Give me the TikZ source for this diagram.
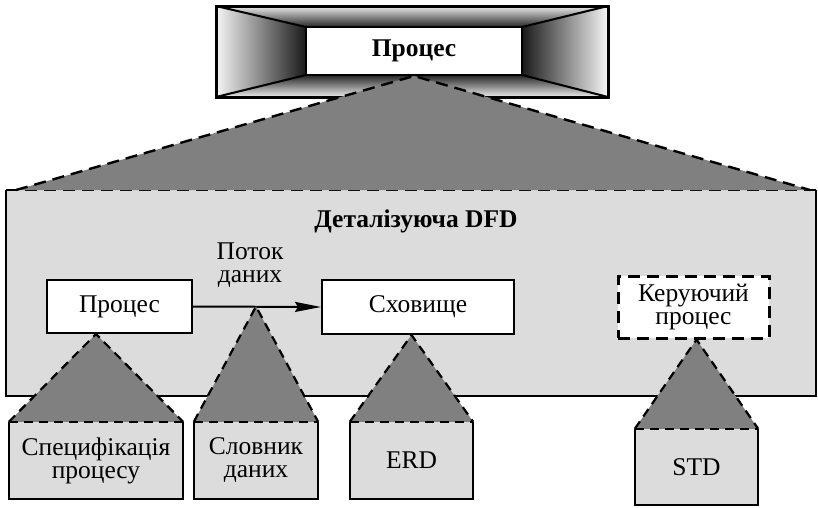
\documentclass[tikz,border=0pt]{standalone}
\usepackage{fontspec}
\setmainfont{Liberation Serif}
\usetikzlibrary{arrows.meta}
\definecolor{panelgrey}{HTML}{DCDCDC}
\definecolor{conegrey}{HTML}{808080}

\begin{document}
\begin{tikzpicture}[x=1pt,y=-1pt,
  lbl/.style={font=\fontsize{25.5}{23}\selectfont, align=center, inner sep=0pt},
  boldlbl/.style={font=\fontsize{25.5}{23}\selectfont\bfseries},
  whitebox/.style={lbl, draw, line width=2pt, fill=white},
  leafbox/.style={lbl, fill=panelgrey},
  solidedge/.style={line width=2pt, line join=miter},
  dashedge/.style={line width=2.2pt, dash pattern=on 9pt off 6pt},
  bigdash/.style={line width=2.4pt, dash pattern=on 12pt off 7pt},
  cone/.style={fill=conegrey},
  frameline/.style={line width=2pt},
  flowarrow/.style={line width=2pt, -{Stealth[length=26pt,width=10pt,inset=3pt]}}
]
\useasboundingbox (0,0) rectangle (818,507);

% ---- top process box with tunnel frame ----
\coordinate (ftl) at (216,6);
\coordinate (ftr) at (608,6);
\coordinate (fbl) at (216,97);
\coordinate (fbr) at (608,97);
\coordinate (itl) at (306,27);
\coordinate (itr) at (522,27);
\coordinate (ibl) at (306,75);
\coordinate (ibr) at (522,75);
\shade[top color=gray!15, bottom color=black!85] (ftl) -- (ftr) -- (itr) -- (itl) -- cycle;
\shade[top color=black!85, bottom color=gray!15] (fbl) -- (ibl) -- (ibr) -- (fbr) -- cycle;
\shade[left color=gray!8, right color=black!90] (ftl) -- (itl) -- (ibl) -- (fbl) -- cycle;
\shade[left color=black!90, right color=gray!8] (ftr) -- (itr) -- (ibr) -- (fbr) -- cycle;
\draw[frameline] (ftl) -- (itl) (ftr) -- (itr) (fbl) -- (ibl) (fbr) -- (ibr);
\node[whitebox, boldlbl, minimum width=216pt, minimum height=48pt]
  (toproc) at (414,51) {Процес};
\draw[line width=3pt] (ftl) rectangle (fbr);

% ---- detailing DFD panel ----
\coordinate (pnw) at (6,190);
\coordinate (pne) at (816,190);
\coordinate (psw) at (6,396);
\coordinate (pse) at (816,396);
\fill[panelgrey] (pnw) rectangle (pse);
\draw[solidedge] (pnw) -- (psw) -- (pse) -- (pne);
\draw[bigdash] (pnw) -- (pne);

% cone from the top process down to the panel
\coordinate (cl) at (16,190);
\coordinate (cr) at (810,190);
\fill[cone] (cl) -- (toproc.south) -- (cr) -- cycle;
\draw[bigdash] (cl) -- (toproc.south) -- (cr);

\node[lbl, boldlbl] (title) at (416,221) {Деталізуюча DFD};

\node[whitebox, minimum width=145pt, minimum height=53pt] (p1) at (119.5,306.5) {Процес};
\node[whitebox, minimum width=192pt, minimum height=54pt] (st) at (418,307) {Сховище};
\node[lbl, fill=white, draw, line width=3pt, dash pattern=on 12pt off 7pt,
  minimum width=151pt, minimum height=62pt] (ctl) at (693.5,307) {Керуючий\\процес};
\node[lbl] (flow) at (250,265) {Поток\\даних};
\draw[flowarrow] (p1.east) -- (st.west);

% ---- leaf specifications under the panel ----
\node[leafbox, minimum width=174pt, minimum height=77pt] (b1) at (96,460.5) {Специфікація\\процесу};
\node[leafbox, minimum width=124pt, minimum height=77pt] (b2) at (256,460.5) {Словник\\даних};
\node[leafbox, minimum width=123pt, minimum height=77pt] (b3) at (411.5,460.5) {ERD};
\node[leafbox, minimum width=123pt, minimum height=76pt] (b4) at (696.5,467) {STD};

\foreach \b/\top in {b1/p1.south, b2/p1.east, b3/st.south, b4/ctl.south} {
  \coordinate (apex-\b) at (\b.north |- \top);
  \fill[cone] (\b.north west) -- (apex-\b) -- (\b.north east) -- cycle;
  \draw[dashedge] (\b.north west) -- (apex-\b) -- (\b.north east);
  \draw[solidedge] (\b.north west) |- (\b.south east) -- (\b.north east);
  \draw[dashedge] (\b.north west) -- (\b.north east);
}
\end{tikzpicture}
\end{document}
